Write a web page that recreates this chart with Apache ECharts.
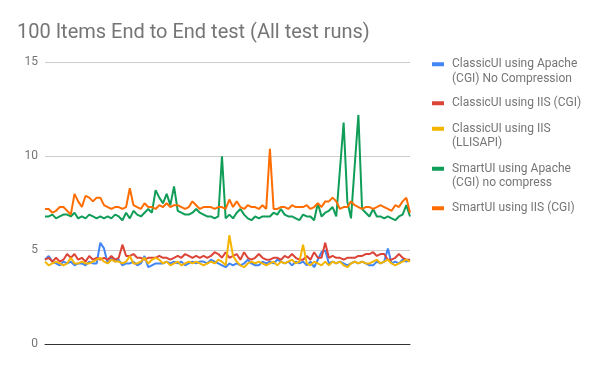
<!DOCTYPE html>
<html>
<head>
<meta charset="utf-8">
<script src="https://cdn.jsdelivr.net/npm/echarts@6/dist/echarts.min.js"></script>
<style>html,body{margin:0;padding:0;background:#fff}#c{width:600px;height:371px}</style>
</head>
<body>
<div id="c"></div>
<script>
const titleText = '100 Items End to End test (All test runs)';
const seriesNames = [
  'ClassicUI using Apache\n(CGI) No Compression',
  'ClassicUI using IIS (CGI)',
  'ClassicUI using IIS\n(LLISAPI)',
  'SmartUI using Apache\n(CGI) no compress',
  'SmartUI using IIS (CGI)'
];
const seriesColors = ['#4285F4', '#DB4437', '#F4B400', '#0F9D58', '#FF6D00'];
const yTicks = [0, 5, 10, 15];

const classicApache = [
  4.5, 4.7, 4.4, 4.3, 4.2, 4.4, 4.3, 4.4, 4.2, 4.3,
  4.3, 4.2, 4.4, 4.3, 4.3, 5.4, 5.1, 4.3, 4.6, 4.4,
  4.5, 4.2, 4.3, 4.3, 4.4, 4.2, 4.3, 4.7, 4.1, 4.2,
  4.3, 4.3, 4.3, 4.4, 4.3, 4.4, 4.3, 4.4, 4.2, 4.3,
  4.4, 4.3, 4.4, 4.4, 4.3, 4.5, 4.4, 4.3, 4.2, 4.1,
  4.3, 4.2, 4.3, 4.2, 4.3, 4.5, 4.3, 4.2, 4.2, 4.4,
  4.3, 4.4, 4.3, 4.5, 4.4, 4.3, 4.4, 4.2, 4.4, 4.3,
  4.4, 4.2, 4.4, 4.1, 4.5, 4.9, 5.0, 4.3, 4.4, 4.3,
  4.4, 4.3, 4.2, 4.3, 4.4, 4.3, 4.4, 4.3, 4.2, 4.2,
  4.4, 4.3, 4.4, 5.1, 4.3, 4.4, 4.3, 4.5, 4.4, 4.5
];
const classicIisCgi = [
  4.5, 4.6, 4.4, 4.6, 4.4, 4.5, 4.8, 4.6, 4.8, 4.5,
  4.6, 4.4, 4.7, 4.5, 4.6, 4.5, 4.6, 4.5, 4.7, 4.5,
  4.6, 5.3, 4.7, 4.7, 4.8, 4.6, 4.6, 4.5, 4.6, 4.6,
  4.6, 4.7, 4.6, 4.6, 4.5, 4.6, 4.7, 4.6, 4.8, 4.7,
  4.6, 4.7, 4.6, 4.7, 4.6, 4.7, 4.9, 4.8, 4.6, 4.9,
  4.6, 4.7, 4.8, 4.5, 4.9, 4.6, 4.5, 4.6, 4.8, 4.6,
  4.5, 4.5, 4.6, 4.6, 4.5, 4.7, 4.6, 4.8, 4.6, 4.5,
  4.5, 4.7, 4.5, 4.9, 4.6, 4.6, 5.4, 4.6, 4.7, 4.6,
  4.6, 4.5, 4.6, 4.6, 4.6, 4.7, 4.7, 4.8, 4.8, 4.9,
  4.7, 4.8, 4.8, 4.5, 4.5, 4.6, 4.8, 4.6, 4.5, 4.5
];
const classicIisIsapi = [
  4.4, 4.2, 4.3, 4.4, 4.3, 4.2, 4.3, 4.6, 4.3, 4.3,
  4.4, 4.3, 4.3, 4.4, 4.5, 4.6, 4.4, 4.3, 4.5, 4.4,
  4.4, 4.3, 4.4, 4.7, 4.3, 4.3, 4.4, 4.6, 4.3, 4.5,
  4.6, 4.5, 4.3, 4.4, 4.2, 4.3, 4.4, 4.2, 4.3, 4.4,
  4.3, 4.4, 4.3, 4.2, 4.3, 4.4, 4.3, 4.5, 4.4, 4.2,
  5.8, 4.7, 4.4, 4.2, 4.1, 4.3, 4.4, 4.3, 4.4, 4.3,
  4.2, 4.3, 4.4, 4.2, 4.4, 4.3, 4.4, 4.5, 4.3, 4.4,
  5.3, 4.3, 4.2, 4.4, 4.3, 4.2, 4.4, 4.2, 4.4, 4.3,
  4.4, 4.2, 4.1, 4.3, 4.4, 4.3, 4.4, 4.3, 4.3, 4.4,
  4.5, 4.3, 4.4, 4.5, 4.3, 4.2, 4.3, 4.4, 4.5, 4.4
];
const smartApache = [
  6.8, 6.8, 6.9, 6.7, 6.8, 6.9, 6.9, 6.8, 7.0, 6.7,
  6.8, 6.7, 6.9, 6.8, 6.7, 6.8, 6.7, 6.8, 6.7, 6.9,
  6.8, 6.6, 7.0, 6.7, 7.1, 6.9, 6.8, 7.0, 7.2, 7.0,
  8.2, 7.8, 7.5, 8.0, 7.4, 8.4, 7.1, 7.0, 6.9, 6.9,
  7.0, 7.2, 7.0, 6.9, 6.8, 6.8, 6.7, 6.8, 10.0, 6.7,
  6.9, 6.7, 7.0, 7.2, 6.9, 6.7, 6.6, 6.8, 6.7, 6.8,
  6.8, 6.8, 7.0, 6.9, 7.2, 6.9, 6.8, 6.8, 6.7, 6.6,
  6.9, 6.8, 6.8, 6.6, 7.5, 6.8, 7.0, 7.1, 7.3, 6.8,
  9.3, 11.8, 7.6, 6.7, 9.5, 12.2, 7.2, 7.0, 6.8, 7.2,
  6.8, 6.8, 6.7, 6.8, 6.7, 6.6, 6.8, 6.9, 7.4, 6.8
];
const smartIis = [
  7.2, 7.2, 7.0, 7.1, 7.3, 7.3, 7.1, 6.9, 8.0, 7.6,
  7.3, 7.9, 7.8, 7.6, 7.8, 7.8, 7.4, 7.3, 7.2, 7.3,
  7.3, 7.2, 7.3, 8.3, 7.4, 7.3, 7.2, 7.5, 7.3, 7.3,
  7.2, 7.4, 7.3, 7.5, 7.3, 7.4, 7.4, 7.3, 7.2, 7.3,
  7.6, 7.4, 7.2, 7.3, 7.3, 7.3, 7.2, 7.3, 7.3, 7.2,
  7.7, 7.3, 7.6, 7.3, 7.2, 7.4, 7.3, 7.3, 7.2, 7.4,
  7.2, 10.4, 7.2, 7.2, 7.3, 7.3, 7.2, 7.4, 7.3, 7.3,
  7.3, 7.4, 7.2, 7.3, 7.5, 7.3, 7.6, 7.6, 7.8, 7.6,
  7.2, 7.3, 7.3, 7.6, 7.4, 7.3, 7.2, 7.3, 7.3, 7.2,
  7.3, 7.4, 7.3, 7.2, 7.1, 7.4, 7.3, 7.6, 7.8, 7.0
];
const seriesValues = [classicApache, classicIisCgi, classicIisIsapi, smartApache, smartIis];
const categories = classicApache.map((_, i) => 'Run ' + (i + 1));

const font = 'Roboto, "Noto Sans", sans-serif';
const legendTops = [57, 96, 121.5, 161.5, 201];
const iconTwoLine = 'path://M0,0.25h12v4h-12z M0,0 M15,19';
const iconOneLine = 'path://M0,0h12v4h-12z M15,4';

const legends = seriesNames.map((name, i) => {
  const two = name.indexOf('\n') >= 0;
  return {
    show: true,
    orient: 'vertical',
    left: 432,
    top: legendTops[i],
    padding: 0,
    itemWidth: 15,
    itemHeight: two ? 19 : 4,
    symbolKeepAspect: false,
    selectedMode: false,
    data: [{ name: name, icon: two ? iconTwoLine : iconOneLine }],
    textStyle: { color: '#757575', fontSize: 12, fontFamily: font, lineHeight: 14.5 }
  };
});

const chart = echarts.init(document.getElementById('c'), null, { renderer: 'canvas' });
chart.setOption({
  animation: false,
  backgroundColor: '#ffffff',
  title: {
    text: titleText,
    left: 17,
    top: 23,
    padding: 0,
    textStyle: { color: '#757575', fontSize: 20, fontWeight: 'normal', fontFamily: font }
  },
  legend: legends,
  grid: { left: 45, right: 190, top: 62.3, bottom: 26.7, containLabel: false },
  xAxis: {
    type: 'category',
    data: categories,
    boundaryGap: false,
    axisLine: { show: true, lineStyle: { color: '#333333', width: 1 } },
    axisTick: { show: false },
    axisLabel: { show: false },
    splitLine: { show: false }
  },
  yAxis: {
    type: 'value',
    min: yTicks[0],
    max: yTicks[yTicks.length - 1],
    interval: 5,
    axisLine: { show: false },
    axisTick: { show: false },
    axisLabel: { color: '#757575', fontSize: 12, fontFamily: font, margin: 7 },
    splitLine: { show: true, lineStyle: { color: '#cccccc', width: 1 } }
  },
  series: seriesNames.map((name, i) => ({
    name: name,
    type: 'line',
    data: seriesValues[i],
    showSymbol: false,
    symbol: 'none',
    color: seriesColors[i],
    lineStyle: { width: 2, color: seriesColors[i] },
    z: 2 + i
  }))
});
</script>
</body>
</html>
